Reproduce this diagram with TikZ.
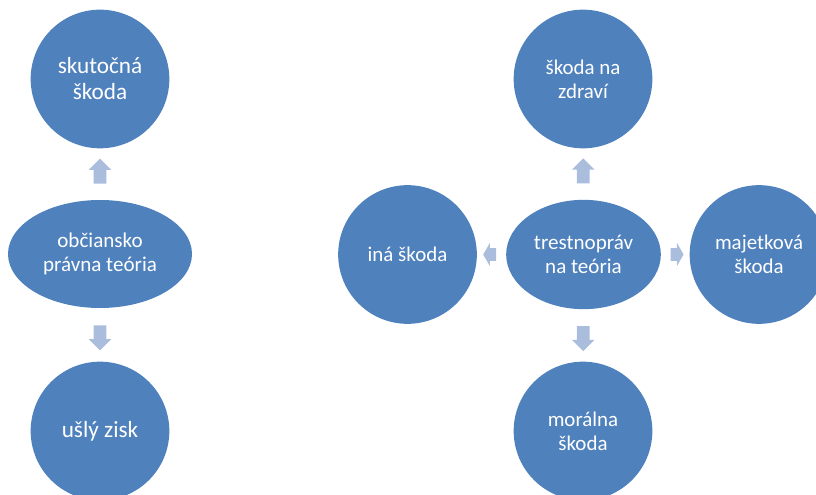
\documentclass[tikz,border=0pt]{standalone}
\usepackage{fontspec}
\setmainfont{Carlito}
\usetikzlibrary{calc,shapes.geometric,shapes.arrows}
\definecolor{circblue}{HTML}{4F81BD}
\definecolor{arrblue}{HTML}{AABDDD}

\begin{document}
\begin{tikzpicture}[x=0.75pt,y=-0.75pt,
        bubble/.style={circle, fill=circblue, text=white, inner sep=0pt, minimum size=104pt, align=center, font=\fontsize{15.7}{18}\selectfont},
        bigbubble/.style={bubble, font=\fontsize{17.4}{19.5}\selectfont},
        hub/.style={ellipse, fill=circblue, text=white, inner sep=0pt, align=center, font=\fontsize{15.8}{17.5}\selectfont},
        vertarr/.style={single arrow, fill=arrblue, draw=none, inner xsep=0pt, inner ysep=4.5pt, minimum height=18.75pt, single arrow head extend=3.75pt},
        sidearr/.style={single arrow, fill=arrblue, draw=none, inner xsep=0pt, inner ysep=4.5pt, minimum height=9.75pt, single arrow head extend=4pt, single arrow tip angle=120}]

        \useasboundingbox (0,0) rectangle (816,495);

                % Left group
                \node[hub, minimum width=138pt, minimum height=81pt] (obc) at (100,254) {občiansko\\právna teória};
                \node[bigbubble] (skut) at (100,79) {skutočná\\škoda};
                \node[bigbubble] (usly) at (100,431) {ušlý zisk};

                \node[vertarr, rotate=90] (a1) at ($(obc.north)!0.5!(skut.south)$) {};
                \node[vertarr, rotate=-90] (a2) at ($(obc.south)!0.5!(usly.north)$) {};

                % Right group
                \node[hub, minimum width=116pt, minimum height=82pt] (trest) at (583.5,254.5) {trestnopráv\\na teória};
                \node[bubble] (zdr) at (583,79) {škoda na\\zdraví};
                \node[bubble] (ina) at (407.5,254.5) {iná škoda};
                \node[bubble] (maj) at (759,254.5) {majetková\\škoda};
                \node[bubble] (mor) at (583,431) {morálna\\škoda};

                \node[vertarr, rotate=90] (b1) at ($(trest.north)!0.5!(zdr.south)$) {};
                \node[vertarr, rotate=-90] (b2) at ($(trest.south)!0.5!(mor.north)$) {};
                \node[sidearr, rotate=180] (b3) at ($(trest.west)!0.5!(ina.east)$) {};
                \node[sidearr] (b4) at ($(trest.east)!0.5!(maj.west)$) {};
            \end{tikzpicture}
\end{document}
